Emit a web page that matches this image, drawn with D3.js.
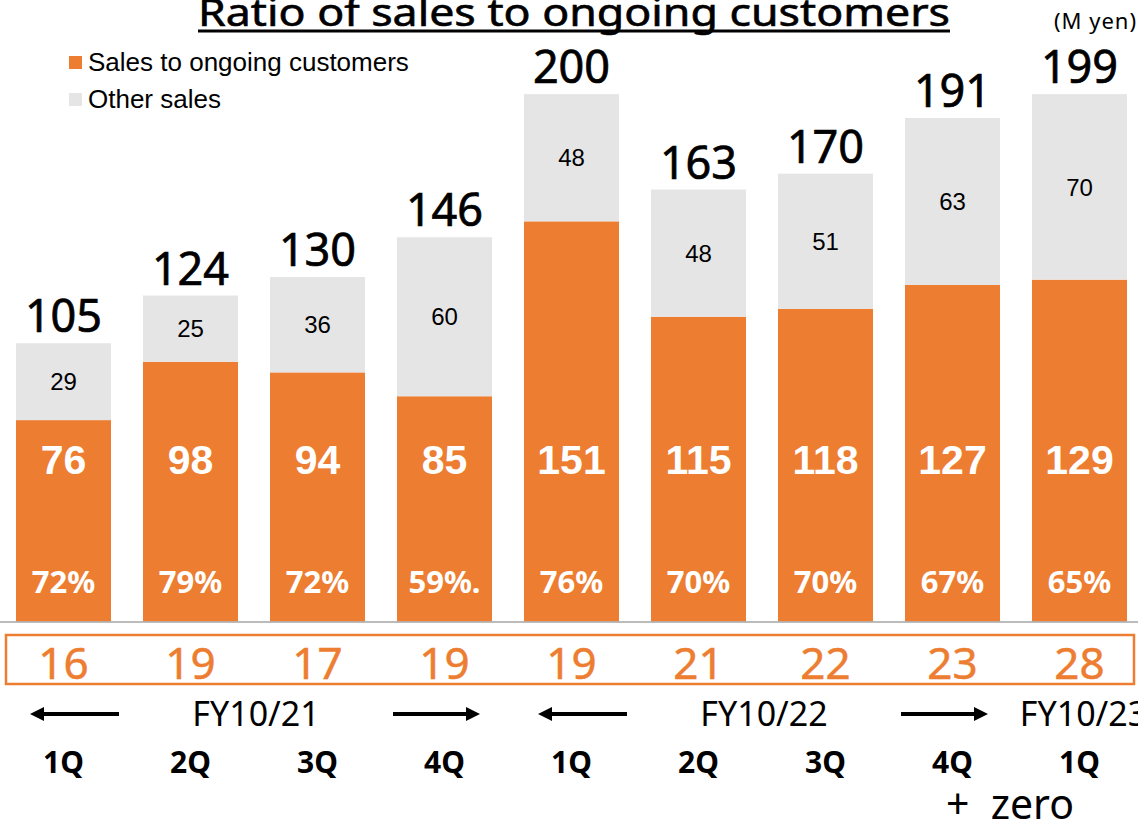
<!DOCTYPE html>
<meta charset="utf-8">
<script src="https://cdn.jsdelivr.net/npm/d3@7"></script>
<style>
  body { margin: 0; background: #fff; }
</style>
<svg id="chart" width="1138" height="822"></svg>
<script>
  // data (M yen)
  const quarters = ["1Q", "2Q", "3Q", "4Q", "1Q", "2Q", "3Q", "4Q", "1Q"];
  const ongoing = [76, 98, 94, 85, 151, 115, 118, 127, 129];
  const other = [29, 25, 36, 60, 48, 48, 51, 63, 70];
  const totals = [105, 124, 130, 146, 200, 163, 170, 191, 199];
  const ratios = ["72%", "79%", "72%", "59%.", "76%", "70%", "70%", "67%", "65%"];
  const boxValues = [16, 19, 17, 19, 19, 21, 22, 23, 28];
  const fiscalYears = [
    { label: "FY10/21", first: 0, last: 3 },
    { label: "FY10/22", first: 4, last: 7 },
    { label: "FY10/23", first: 8, last: 8 }
  ];

  const orange = "#ED7D31", grey = "#E5E5E5";

  const svg = d3.select("#chart"),
    width = +svg.attr("width");

  const x = d3.scaleBand()
    .domain(d3.range(quarters.length))
    .range([0, 1143])
    .paddingInner(0.252)
    .paddingOuter(0.126);

  const baseY = 621.5;
  const y = d3.scaleLinear().domain([0, 200]).range([baseY, baseY - 530]);

  const jp = "'Noto Sans', 'DejaVu Sans', sans-serif";
  const arial = "'Liberation Sans', Arial, sans-serif";

  // title
  svg.append("text")
    .attr("x", 574).attr("y", 26)
    .attr("text-anchor", "middle")
    .attr("textLength", 752).attr("lengthAdjust", "spacingAndGlyphs")
    .attr("stroke", "#000").attr("stroke-width", 0.6)
    .style("font-family", jp).style("font-size", "38px")
    .text("Ratio of sales to ongoing customers");
  svg.append("line")
    .attr("x1", 198).attr("x2", 950).attr("y1", 31).attr("y2", 31)
    .attr("stroke", "#000").attr("stroke-width", 3);

  svg.append("text")
    .attr("x", 1137).attr("y", 29)
    .attr("text-anchor", "end")
    .style("font-family", jp).style("font-size", "22px")
    .style("letter-spacing", "1px")
    .text("(M yen)");

  // legend
  const legend = svg.append("g").attr("transform", "translate(69,56)");
  [["Sales to ongoing customers", orange], ["Other sales", grey]].forEach(function (d, i) {
    legend.append("rect").attr("x", 0).attr("y", i * 37).attr("width", 13).attr("height", 13).attr("fill", d[1]);
    legend.append("text").attr("x", 19).attr("y", i * 37 + 15)
      .style("font-family", arial).style("font-size", "26px").text(d[0]);
  });

  // bars
  const bars = svg.append("g");
  bars.selectAll(".ongoing")
    .data(ongoing)
    .enter().append("rect")
    .attr("class", "ongoing")
    .attr("x", (d, i) => x(i))
    .attr("width", x.bandwidth())
    .attr("y", d => y(d))
    .attr("height", d => baseY - y(d))
    .attr("fill", orange);

  bars.selectAll(".other")
    .data(other)
    .enter().append("rect")
    .attr("class", "other")
    .attr("x", (d, i) => x(i))
    .attr("width", x.bandwidth())
    .attr("y", (d, i) => y(ongoing[i] + d))
    .attr("height", (d, i) => y(ongoing[i]) - y(ongoing[i] + d))
    .attr("fill", grey);

  // baseline
  svg.append("line")
    .attr("x1", 0).attr("x2", width).attr("y1", baseY + 0.5).attr("y2", baseY + 0.5)
    .attr("stroke", "#a6a6a6").attr("stroke-width", 1.5);

  const cx = i => x(i) + x.bandwidth() / 2;

  // labels
  svg.append("g").selectAll("text")
    .data(totals).enter().append("text")
    .attr("x", (d, i) => cx(i))
    .attr("y", (d, i) => y(ongoing[i] + other[i]) - 11)
    .attr("text-anchor", "middle")
    .attr("stroke", "#000").attr("stroke-width", 0.7)
    .style("font-family", jp).style("font-size", "45px")
    .text(d => d);

  svg.append("g").selectAll("text")
    .data(other).enter().append("text")
    .attr("x", (d, i) => cx(i))
    .attr("y", (d, i) => (y(ongoing[i] + d) + y(ongoing[i])) / 2)
    .attr("dy", "0.36em")
    .attr("text-anchor", "middle")
    .style("font-family", arial).style("font-size", "24px")
    .text(d => d);

  svg.append("g").selectAll("text")
    .data(ongoing).enter().append("text")
    .attr("x", (d, i) => cx(i))
    .attr("y", 459)
    .attr("dy", "0.36em")
    .attr("text-anchor", "middle")
    .attr("fill", "#fff")
    .style("font-family", arial).style("font-size", "41px").style("font-weight", "bold")
    .text(d => d);

  svg.append("g").selectAll("text")
    .data(ratios).enter().append("text")
    .attr("x", (d, i) => cx(i))
    .attr("y", 582)
    .attr("dy", "0.36em")
    .attr("text-anchor", "middle")
    .attr("fill", "#fff")
    .style("font-family", jp).style("font-size", "31px").style("font-weight", "bold")
    .text(d => d);

  // orange box row
  svg.append("rect")
    .attr("x", 6).attr("y", 635).attr("width", 1128).attr("height", 49)
    .attr("fill", "none").attr("stroke", orange).attr("stroke-width", 2.5);

  svg.append("g").selectAll("text")
    .data(boxValues).enter().append("text")
    .attr("x", (d, i) => cx(i))
    .attr("y", 679)
    .attr("text-anchor", "middle")
    .attr("fill", orange)
    .attr("stroke", orange).attr("stroke-width", 0.5)
    .style("font-family", jp).style("font-size", "44px")
    .text(d => d);

  // fiscal year arrows
  function arrow(x1, x2, yy) {
    const dir = x2 > x1 ? 1 : -1;
    svg.append("line")
      .attr("x1", x1).attr("x2", x2 - dir * 12).attr("y1", yy).attr("y2", yy)
      .attr("stroke", "#000").attr("stroke-width", 4);
    svg.append("path")
      .attr("d", `M${x2},${yy} L${x2 - dir * 14},${yy - 7} L${x2 - dir * 14},${yy + 7} Z`)
      .attr("fill", "#000");
  }

  const fyY = 714;
  fiscalYears.forEach(function (fy) {
    let mid;
    if (fy.last > fy.first) {
      const leftEnd = x(fy.first) + x.bandwidth() + 8;
      const rightStart = x(fy.last) - 4;
      arrow(leftEnd, x(fy.first) + 14, fyY);
      arrow(rightStart, x(fy.last) + x.bandwidth() - 12, fyY);
      mid = (leftEnd + rightStart) / 2;
    } else {
      mid = cx(fy.first) + 4;
    }
    svg.append("text")
      .attr("x", mid).attr("y", fyY)
      .attr("dy", "0.36em")
      .attr("text-anchor", "middle")
      .style("font-family", jp).style("font-size", "34px")
      .text(fy.label);
  });

  // quarter labels
  svg.append("g").selectAll("text")
    .data(quarters).enter().append("text")
    .attr("x", (d, i) => cx(i))
    .attr("y", 762)
    .attr("dy", "0.36em")
    .attr("text-anchor", "middle")
    .style("font-family", jp).style("font-size", "30px").style("font-weight", "bold")
    .text(d => d);

  svg.append("text")
    .attr("x", 1010).attr("y", 804)
    .attr("dy", "0.36em")
    .attr("text-anchor", "middle")
    .attr("xml:space", "preserve")
    .style("font-family", jp).style("font-size", "41px")
    .text("+  zero");
</script>
